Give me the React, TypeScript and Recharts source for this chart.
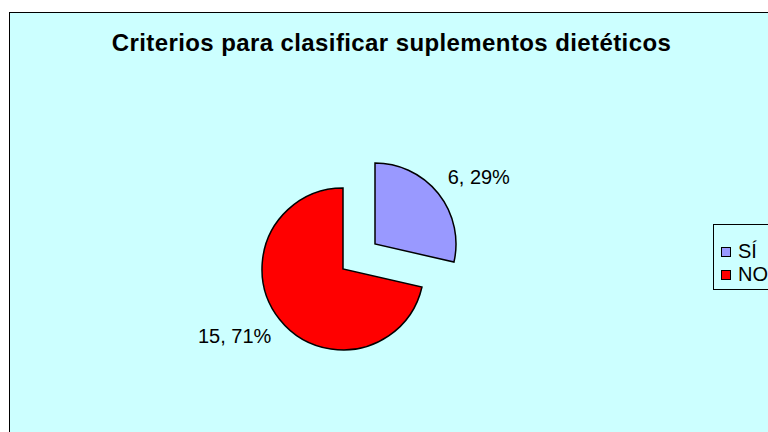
import React from "react";
import { PieChart, Pie, Cell, Legend } from "recharts";

const categories = ["SÍ", "NO"];
const counts = [6, 15];
const colors = ["#9999FF", "#FF0000"];

const data = categories.map((name, i) => ({ name, value: counts[i] }));
const total = counts.reduce((a, b) => a + b, 0);

const FONT = "'Liberation Sans', Arial, sans-serif";
const RAD = Math.PI / 180;

// label for one visible slice, placed just outside the arc
function makeLabel(visible: number) {
  return (props: any) => {
    const { cx, cy, midAngle, outerRadius, index, value } = props;
    if (index !== visible) return null;
    const r = outerRadius + 26;
    const cos = Math.cos(-midAngle * RAD);
    const x = cx + r * cos;
    const y = cy + r * Math.sin(-midAngle * RAD);
    const right = cos >= 0;
    return (
      <text
        x={right ? x - 11 : x + 12}
        y={y}
        textAnchor={right ? "start" : "end"}
        dominantBaseline="central"
        fontFamily={FONT}
        fontSize={20}
        fill="#000"
      >
        {`${value}, ${Math.round((value / total) * 100)}%`}
      </text>
    );
  };
}

const renderLegend = () => (
  <div
    style={{
      border: "1px solid #000",
      background: "#CCFFFF",
      width: 80,
      height: 64,
      position: "relative",
      fontFamily: FONT,
      fontSize: 20,
    }}
  >
    {categories.map((c, i) => (
      <div key={c} style={{ position: "absolute", left: 7, top: 15 + i * 23, height: 23, display: "flex", alignItems: "center" }}>
        <span style={{ width: 8, height: 8, border: "1px solid #000", background: colors[i], display: "inline-block", marginRight: 7 }} />
        <span style={{ lineHeight: "23px" }}>{c}</span>
      </div>
    ))}
  </div>
);

export default function App() {
  return (
    <div style={{ position: "fixed", left: 0, top: 0, width: 768, height: 432, overflow: "hidden", background: "#fff" }}>
      <div
        style={{
          position: "absolute",
          left: 9,
          top: 12,
          width: 780,
          height: 440,
          border: "1px solid #000",
          background: "#CCFFFF",
        }}
      >
        <div
          style={{
            position: "absolute",
            left: 0,
            top: 16,
            width: 763,
            textAlign: "center",
            fontFamily: FONT,
            fontWeight: "bold",
            fontSize: 24,
            letterSpacing: 0.4,
            color: "#000",
          }}
        >
          Criterios para clasificar suplementos dietéticos
        </div>
        <PieChart width={780} height={440} margin={{ top: 0, right: 0, bottom: 0, left: 0 }}>
          <Pie
            data={data}
            dataKey="value"
            cx={333}
            cy={256}
            outerRadius={81}
            startAngle={90}
            endAngle={-270}
            isAnimationActive={false}
            labelLine={false}
            label={makeLabel(1)}
          >
            {data.map((d, i) => (
              <Cell key={`a-${i}`} fill={i === 1 ? colors[i] : "none"} stroke={i === 1 ? "#000" : "none"} strokeWidth={1.5} />
            ))}
          </Pie>
          <Pie
            data={data}
            dataKey="value"
            cx={365}
            cy={231}
            outerRadius={81}
            startAngle={90}
            endAngle={-270}
            isAnimationActive={false}
            labelLine={false}
            label={makeLabel(0)}
          >
            {data.map((d, i) => (
              <Cell key={`b-${i}`} fill={i === 0 ? colors[i] : "none"} stroke={i === 0 ? "#000" : "none"} strokeWidth={1.5} />
            ))}
          </Pie>
          <Legend content={renderLegend} wrapperStyle={{ position: "absolute", left: 703, top: 211, width: 80, height: 66 }} />
        </PieChart>
      </div>
    </div>
  );
}
